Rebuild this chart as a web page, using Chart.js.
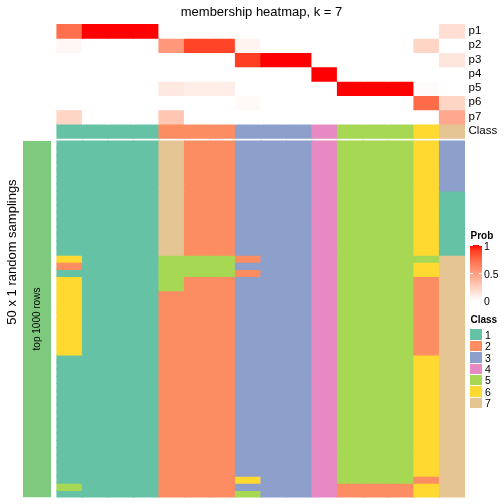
<!DOCTYPE html>
<html><head><meta charset="utf-8">
<script src="https://cdn.jsdelivr.net/npm/chart.js@4.4.0/dist/chart.umd.min.js"></script>
<style>
html,body{margin:0;padding:0;background:#fff;}
#wrap{position:relative;width:504px;height:504px;font-family:"Liberation Sans",Arial,sans-serif;color:#000;overflow:hidden;}
#c{position:absolute;left:0;top:0;}
.t{position:absolute;white-space:nowrap;line-height:1;}
</style></head><body>
<div id="wrap"><canvas id="c" width="504" height="504"></canvas></div>
<script>
// ---------------- data ----------------
const columns = ['s1','s2','s3','s4','s5','s6','s7','s8','s9','s10','s11','s12','s13','s14','s15','s16'];
const probLabels = ['p1','p2','p3','p4','p5','p6','p7'];
const p1 = [0.72,1,1,1,0,0,0,0,0,0,0,0,0,0,0,0.17];
const p2 = [0.04,0,0,0,0.53,0.88,0.88,0.06,0,0,0,0,0,0,0.22,0];
const p3 = [0,0,0,0,0,0,0,0.9,1,1,0,0,0,0,0,0.13];
const p4 = [0,0,0,0,0,0,0,0,0,0,1,0,0,0,0,0];
const p5 = [0,0,0,0,0.12,0.09,0.09,0,0,0,0,1,1,1,0.02,0];
const p6 = [0,0,0,0,0,0,0,0.03,0,0,0,0,0,0,0.74,0.22];
const p7 = [0.22,0,0,0,0.3,0,0,0,0,0,0,0,0,0,0,0.45];
const classRow = [1,1,1,1,2,2,2,3,3,3,4,5,5,5,6,7];
const samplings = [
  [1,1,1,1,7,2,2,3,3,3,4,5,5,5,6,3],
  [1,1,1,1,7,2,2,3,3,3,4,5,5,5,6,3],
  [1,1,1,1,7,2,2,3,3,3,4,5,5,5,6,3],
  [1,1,1,1,7,2,2,3,3,3,4,5,5,5,6,3],
  [1,1,1,1,7,2,2,3,3,3,4,5,5,5,6,3],
  [1,1,1,1,7,2,2,3,3,3,4,5,5,5,6,3],
  [1,1,1,1,7,2,2,3,3,3,4,5,5,5,6,3],
  [1,1,1,1,7,2,2,3,3,3,4,5,5,5,6,1],
  [1,1,1,1,7,2,2,3,3,3,4,5,5,5,6,1],
  [1,1,1,1,7,2,2,3,3,3,4,5,5,5,6,1],
  [1,1,1,1,7,2,2,3,3,3,4,5,5,5,6,1],
  [1,1,1,1,7,2,2,3,3,3,4,5,5,5,6,1],
  [1,1,1,1,7,2,2,3,3,3,4,5,5,5,6,1],
  [1,1,1,1,7,2,2,3,3,3,4,5,5,5,6,1],
  [1,1,1,1,7,2,2,3,3,3,4,5,5,5,6,1],
  [1,1,1,1,7,2,2,3,3,3,4,5,5,5,6,1],
  [6,1,1,1,5,5,5,2,3,3,4,5,5,5,5,7],
  [2,1,1,1,5,5,5,3,3,3,4,5,5,5,6,7],
  [1,1,1,1,5,5,5,2,3,3,4,5,5,5,6,7],
  [6,1,1,1,5,2,2,3,3,3,4,5,5,5,2,7],
  [6,1,1,1,5,2,2,3,3,3,4,5,5,5,2,7],
  [6,1,1,1,2,2,2,3,3,3,4,5,5,5,2,7],
  [6,1,1,1,2,2,2,3,3,3,4,5,5,5,2,7],
  [6,1,1,1,2,2,2,3,3,3,4,5,5,5,2,7],
  [6,1,1,1,2,2,2,3,3,3,4,5,5,5,2,7],
  [6,1,1,1,2,2,2,3,3,3,4,5,5,5,2,7],
  [6,1,1,1,2,2,2,3,3,3,4,5,5,5,2,7],
  [6,1,1,1,2,2,2,3,3,3,4,5,5,5,2,7],
  [6,1,1,1,2,2,2,3,3,3,4,5,5,5,2,7],
  [6,1,1,1,2,2,2,3,3,3,4,5,5,5,2,7],
  [1,1,1,1,2,2,2,3,3,3,4,5,5,5,6,7],
  [1,1,1,1,2,2,2,3,3,3,4,5,5,5,6,7],
  [1,1,1,1,2,2,2,3,3,3,4,5,5,5,6,7],
  [1,1,1,1,2,2,2,3,3,3,4,5,5,5,6,7],
  [1,1,1,1,2,2,2,3,3,3,4,5,5,5,6,7],
  [1,1,1,1,2,2,2,3,3,3,4,5,5,5,6,7],
  [1,1,1,1,2,2,2,3,3,3,4,5,5,5,6,7],
  [1,1,1,1,2,2,2,3,3,3,4,5,5,5,6,7],
  [1,1,1,1,2,2,2,3,3,3,4,5,5,5,6,7],
  [1,1,1,1,2,2,2,3,3,3,4,5,5,5,6,7],
  [1,1,1,1,2,2,2,3,3,3,4,5,5,5,6,7],
  [1,1,1,1,2,2,2,3,3,3,4,5,5,5,6,7],
  [1,1,1,1,2,2,2,3,3,3,4,5,5,5,6,7],
  [1,1,1,1,2,2,2,3,3,3,4,5,5,5,6,7],
  [1,1,1,1,2,2,2,3,3,3,4,5,5,5,6,7],
  [1,1,1,1,2,2,2,3,3,3,4,5,5,5,6,7],
  [1,1,1,1,2,2,2,3,3,3,4,5,5,5,6,7],
  [1,1,1,1,2,2,2,6,3,3,4,5,5,5,2,7],
  [5,1,1,1,2,2,2,3,3,3,4,2,2,2,6,7],
  [1,1,1,1,2,2,2,5,3,3,4,2,2,2,6,7]
];
const classNames = ['1','2','3','4','5','6','7'];
const probTicks = ['1','0.5','0'];
const titleText = 'membership heatmap, k = 7';
const leftTitle = '50 x 1 random samplings';
const annotText = 'top 1000 rows';

// ---------------- styles ----------------
const classColors = ['#66C2A5','#FC8D62','#8DA0CB','#E78AC3','#A6D854','#FFD92F','#E5C494'];
const annotColor = '#7FC97F';

// LAB interpolation white -> red
function toLin(c){c/=255;return c<=0.04045?c/12.92:Math.pow((c+0.055)/1.055,2.4);}
function toS(c){c=c<=0.0031308?12.92*c:1.055*Math.pow(c,1/2.4)-0.055;return Math.round(Math.max(0,Math.min(1,c))*255);}
const Xn=0.95047,Yn=1,Zn=1.08883;
function rgb2lab(r,g,b){r=toLin(r);g=toLin(g);b=toLin(b);
  const X=0.4124*r+0.3576*g+0.1805*b,Y=0.2126*r+0.7152*g+0.0722*b,Z=0.0193*r+0.1192*g+0.9505*b;
  const f=t=>t>0.008856?Math.cbrt(t):7.787*t+16/116;
  const fx=f(X/Xn),fy=f(Y/Yn),fz=f(Z/Zn);return [116*fy-16,500*(fx-fy),200*(fy-fz)];}
function lab2rgb(L,a,b){const fy=(L+16)/116,fx=fy+a/500,fz=fy-b/200;
  const fi=t=>t>0.206893?t*t*t:(t-16/116)/7.787;
  const X=Xn*fi(fx),Y=Yn*fi(fy),Z=Zn*fi(fz);
  const r=3.2406*X-1.5372*Y-0.4986*Z,g=-0.9689*X+1.8758*Y+0.0415*Z,bb=0.0557*X-0.2040*Y+1.0570*Z;
  return [toS(r),toS(g),toS(bb)];}
const labW=rgb2lab(255,255,255),labR=rgb2lab(255,0,0);
function probColor(t){const c=lab2rgb(labW[0]+(labR[0]-labW[0])*t,labW[1]+(labR[1]-labW[1])*t,labW[2]+(labR[2]-labW[2])*t);return `rgb(${c[0]},${c[1]},${c[2]})`;}

// ---------------- layout ----------------
const AREA = {left:23, right:465, top:24, bottom:497.5};
const LEFT_COLS = 34/25.5;          // space left of the matrix, in column units
const COL_PX = (AREA.right-AREA.left)/(columns.length+LEFT_COLS);
const TOP_H = 2, GAP = 0.42;
const MAIN_TOP = 8*TOP_H + GAP;
const Y_MAX = MAIN_TOP + samplings.length;

function makeRow(colors, y0, y1){
  return {data: columns.map((c,i)=>({x:i+0.5, y:[y0,y1]})), backgroundColor: colors,
          barThickness: COL_PX, grouped:false, borderWidth:0, inflateAmount:0.6};
}
const datasets = [];
[p1,p2,p3,p4,p5,p6,p7].forEach((vals,r)=>datasets.push(makeRow(vals.map(probColor), r*TOP_H, (r+1)*TOP_H)));
datasets.push(makeRow(classRow.map(c=>classColors[c-1]), 7*TOP_H, 8*TOP_H));
samplings.forEach((row,k)=>datasets.push(makeRow(row.map(c=>classColors[c-1]), MAIN_TOP+k, MAIN_TOP+k+1)));
datasets.push({data:[{x:-LEFT_COLS+14/COL_PX, y:[MAIN_TOP, Y_MAX]}], backgroundColor:annotColor,
               barThickness:28, grouped:false, borderWidth:0, inflateAmount:0});

const chart = new Chart(document.getElementById('c'), {
  type:'bar',
  data:{datasets},
  options:{
    responsive:false, animation:false, events:[],
    layout:{padding:{left:AREA.left, right:504-AREA.right, top:AREA.top, bottom:504-AREA.bottom}},
    plugins:{legend:{display:false}, tooltip:{enabled:false}, title:{display:false}},
    scales:{
      x:{type:'linear', offset:false, min:-LEFT_COLS, max:columns.length, display:false},
      y:{type:'linear', min:0, max:Y_MAX, reverse:true, display:false}
    }
  }
});

// ---------------- texts & legends ----------------
const wrap = document.getElementById('wrap');
function txt(s, x, y, css){const d=document.createElement('div');d.className='t';d.textContent=s;
  d.style.left=x+'px';d.style.top=y+'px';d.style.cssText+=css||'';wrap.appendChild(d);return d;}
const ys = chart.scales.y;
txt(titleText, 261.5, 11, 'font-size:13px;transform:translate(-50%,-50%);');
probLabels.concat(['Class']).forEach((s,r)=>{
  txt(s, 468.5, ys.getPixelForValue((r+0.5)*TOP_H), 'font-size:11.5px;transform:translateY(-50%);');
});
txt(leftTitle, 11, 251.5, 'font-size:13px;transform:translate(-50%,-50%) rotate(-90deg);');
txt(annotText, 37, 318.5, 'font-size:10px;transform:translate(-50%,-50%) rotate(-90deg);');

// Prob legend
txt('Prob', 470.5, 236, 'font-size:10px;font-weight:bold;transform:translateY(-50%);');
const grad = document.createElement('div');
const stops = [];for(let i=0;i<=10;i++)stops.push(probColor(i/10)+' '+(i*10)+'%');
grad.style.cssText = `position:absolute;left:470px;top:245px;width:11.5px;height:56px;background:linear-gradient(to top,${stops.join(',')});`;
wrap.appendChild(grad);
[0,0.5,1].forEach(f=>{
  const yy = 245 + f*56;
  [470,479].forEach(xx=>{const m=document.createElement('div');
    m.style.cssText=`position:absolute;left:${xx}px;top:${yy-0.5}px;width:2.5px;height:1px;background:#fff;`;wrap.appendChild(m);});
});
probTicks.forEach((s,i)=>txt(s, 484, 246 + i*27.7, 'font-size:10.5px;transform:translateY(-50%);'));

// Class legend
txt('Class', 470.5, 319.5, 'font-size:10px;font-weight:bold;transform:translateY(-50%);');
classNames.forEach((s,i)=>{
  const top = 329.3 + i*11.4;
  const sq=document.createElement('div');
  sq.style.cssText=`position:absolute;left:470px;top:${top}px;width:11.5px;height:10.6px;background:${classColors[i]};`;
  wrap.appendChild(sq);
  txt(s, 485, top+5.5, 'font-size:10.5px;transform:translateY(-50%);');
});
</script>
</body></html>
